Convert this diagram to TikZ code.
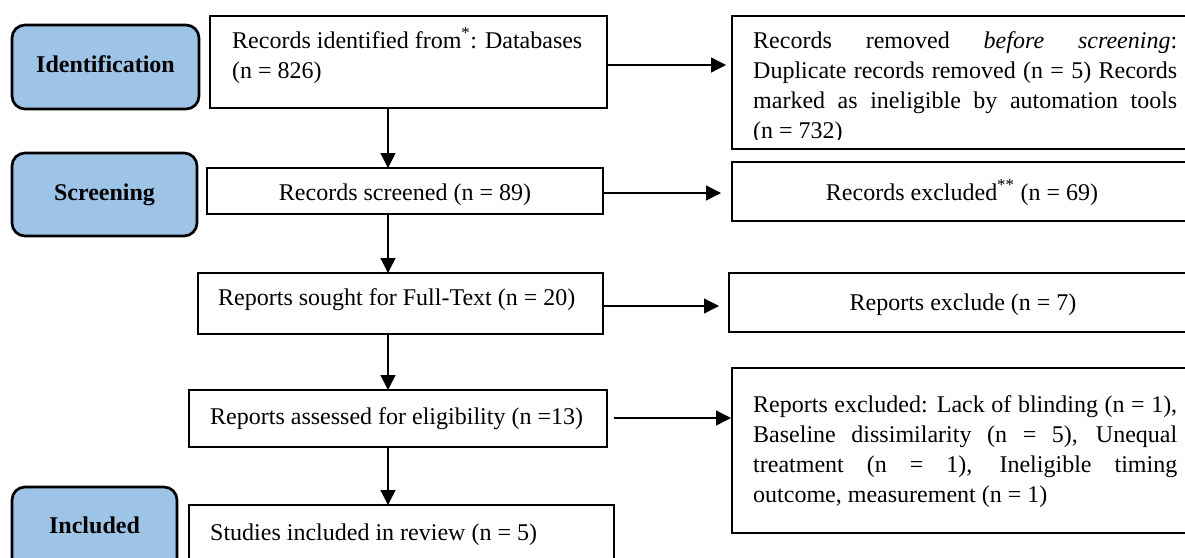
\documentclass[tikz,border=0pt]{standalone}
\usepackage{fontspec}
\setmainfont{Liberation Serif}
\usetikzlibrary{arrows.meta}
\definecolor{stageblue}{HTML}{9DC3E6}
\begin{document}
\begin{tikzpicture}[x=1pt,y=-1pt,
  every node/.style={font=\fontsize{24}{30}\selectfont},
  stage/.style={draw=black, line width=2.7pt, fill=stageblue, rounded corners=13pt, anchor=north west, inner sep=0pt, outer sep=0pt},
  stagetext/.style={inner sep=0pt, anchor=base, font=\fontsize{24}{30}\selectfont\bfseries},
  box/.style={draw=black, line width=2.7pt, anchor=north west, inner sep=0pt, outer sep=0pt},
  txt/.style={inner sep=0pt},
  arr/.style={line width=1.3pt, -{Triangle[length=15pt,width=15pt]}}]
\fill[white] (0,0) rectangle (1185,557);
\useasboundingbox (0,0) rectangle (1185,557);

% stage labels
\node[stage, minimum width=187pt, minimum height=84pt] (idb) at (12,25) {};
\node[stagetext] (idt) at (105.5,72) {Identification};
\node[stage, minimum width=185pt, minimum height=83pt] (scb) at (12,153) {};
\node[stagetext] (sct) at (104.5,200) {Screening};
\node[stage, minimum width=165pt, minimum height=120pt] (inb) at (12,487) {};
\node[stagetext] (int) at (94.5,533) {Included};

% main boxes
\node[box, minimum width=397pt, minimum height=92pt] (b1) at (210,16) {};
\node[box, minimum width=464pt, minimum height=133pt] (rem) at (732,16) {};
\node[box, minimum width=396pt, minimum height=46pt] (scr) at (207,168) {};
\node[box, minimum width=464pt, minimum height=59pt] (exa) at (732,162) {};
\node[box, minimum width=405pt, minimum height=61pt] (ft) at (198,273) {};
\node[box, minimum width=467pt, minimum height=59pt] (exb) at (729,273) {};
\node[box, minimum width=418pt, minimum height=57pt] (ass) at (189,390) {};
\node[box, minimum width=464pt, minimum height=165pt] (exc) at (732,368) {};
\node[box, minimum width=425pt, minimum height=120pt] (stu) at (189,505) {};

% texts
\node[txt, anchor=base west] (b1t) at (232,48) {\parbox[t]{370pt}{\fontsize{24}{30}\selectfont Records identified from\textsuperscript{*}: Databases\\(n = 826)}};
\begin{scope}
\clip (732,16) rectangle (1196,139);
\node[txt, anchor=base west] (remt) at (753,48) {\parbox[t]{424pt}{\fontsize{24}{30}\selectfont\tolerance=10000 Records removed \textit{before screening}:\linebreak Duplicate records removed (n = 5) Records\linebreak marked as ineligible by automation tools\linebreak (n = 732)}};
\end{scope}
\node[txt, anchor=base] (scrt) at (405,200) {Records screened (n = 89)};
\node[txt, anchor=base] (exat) at (962,200) {Records excluded\textsuperscript{**} (n = 69)};
\node[txt, anchor=base west] (ftt) at (218,305) {Reports sought for Full-Text (n = 20)};
\node[txt, anchor=base] (exbt) at (963,310) {Reports exclude (n = 7)};
\node[txt, anchor=base west] (asst) at (210,424) {Reports assessed for eligibility (n =13)};
\node[txt, anchor=base west] (excs) at (753,412) {\parbox[t]{424pt}{\fontsize{24}{30}\selectfont\tolerance=10000 Reports excluded: Lack of blinding (n = 1),\linebreak Baseline dissimilarity (n = 5), Unequal\linebreak treatment (n = 1), Ineligible timing\linebreak outcome, measurement (n = 1)}};
\node[txt, anchor=base west] (stut) at (210,540) {Studies included in review (n = 5)};

% connectors
\coordinate (spine) at (388,0);
\coordinate (h1) at (0,65);
\coordinate (h2) at (0,193);
\coordinate (h3) at (0,306);
\coordinate (h4) at (0,418);
\draw[arr] (b1.south -| spine) -- (scr.north -| spine);
\draw[arr] (scr.south -| spine) -- (ft.north -| spine);
\draw[arr] (ft.south -| spine) -- (ass.north -| spine);
\draw[arr] (ass.south -| spine) -- (stu.north -| spine);
\draw[arr, shorten >=6pt] (b1.east |- h1) -- (rem.west |- h1);
\draw[arr, shorten >=11pt] (scr.east |- h2) -- (exa.west |- h2);
\draw[arr, shorten >=10pt] (ft.east |- h3) -- (exb.west |- h3);
\draw[arr, shorten <=7pt, shorten >=1pt] (ass.east |- h4) -- (exc.west |- h4);
\end{tikzpicture}
\end{document}
